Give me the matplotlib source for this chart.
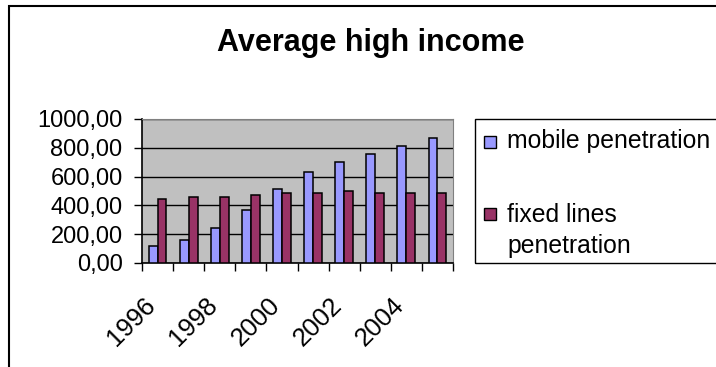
import numpy as np
import matplotlib.pyplot as plt
from matplotlib.patches import Rectangle
from matplotlib.transforms import ScaledTranslation

years = ['1996', '1997', '1998', '1999', '2000', '2001', '2002', '2003', '2004', '2005']
mobile = [120, 162, 245, 366, 514, 634, 704, 759, 810, 866]
fixed = [444, 458, 458, 472, 486, 486, 500, 486, 486, 486]

plt.rcParams['font.family'] = ['Liberation Sans', 'DejaVu Sans']

W, H = 716, 367
fig = plt.figure(figsize=(W / 100, H / 100), dpi=100)
fig.patch.set_facecolor('white')

# outer chart border (runs off right and bottom edges)
fig.add_artist(Rectangle((9 / W, -0.1), 1.2, (H - 6) / H + 0.1,
                         transform=fig.transFigure, fill=False,
                         edgecolor='black', lw=1.5))

ax = fig.add_axes([142 / W, 1 - 263 / H, (453 - 142) / W, (263 - 119) / H])
ax.set_facecolor('#C0C0C0')

x = np.arange(len(years))
bw = 0.286
ax.bar(x - bw / 2, mobile, bw, color='#9999FF', edgecolor='black', lw=1.1, zorder=3)
ax.bar(x + bw / 2, fixed, bw, color='#993366', edgecolor='black', lw=1.1, zorder=3)

ax.set_xlim(-0.5, len(years) - 0.5)
ax.set_ylim(0, 1000)

ax.set_yticks(np.arange(0, 1001, 200))
ax.set_yticklabels([f'{v:.2f}'.replace('.', ',') for v in np.arange(0, 1001, 200)])
ax.yaxis.grid(True, color='black', lw=1)
ax.set_axisbelow(True)

# category boundary ticks, labels on every other category centre
ax.set_xticks(np.arange(-0.5, len(years), 1.0))
ax.set_xticklabels([])
ax.set_xticks(x[::2], minor=True)
ax.set_xticklabels(years[::2], minor=True)
ax.tick_params(axis='x', which='major', length=6, width=1, direction='out')
ax.tick_params(axis='x', which='minor', length=0, pad=28, labelsize=18.5)
shift = ScaledTranslation(-6 / 100, 0, fig.dpi_scale_trans)
for lab in ax.get_xticklabels(minor=True):
    lab.set_rotation(45)
    lab.set_ha('right')
    lab.set_va('center')
    lab.set_rotation_mode('anchor')
    lab.set_transform(lab.get_transform() + shift)
ax.tick_params(axis='y', length=6, width=1, pad=8, labelsize=17)

for s in ['top', 'right']:
    ax.spines[s].set_color('#808080')
for s in ['left', 'bottom']:
    ax.spines[s].set_color('black')
    ax.spines[s].set_linewidth(1.2)

fig.text(371 / W, 1 - 43 / H, 'Average high income', ha='center', va='center',
         fontsize=22, fontweight='bold')

# legend box
fig.add_artist(Rectangle((475 / W, 1 - 263 / H), 0.5, (263 - 119) / H,
                         transform=fig.transFigure, fill=False,
                         edgecolor='black', lw=1))
fig.add_artist(Rectangle((484 / W, 1 - 148 / H), 12 / W, 12 / H,
                         transform=fig.transFigure, facecolor='#9999FF',
                         edgecolor='black', lw=1))
fig.text(507 / W, 1 - 141 / H, 'mobile penetration', ha='left', va='center', fontsize=17.8)
fig.add_artist(Rectangle((484 / W, 1 - 220 / H), 12 / W, 12 / H,
                         transform=fig.transFigure, facecolor='#993366',
                         edgecolor='black', lw=1))
fig.text(507 / W, 1 - 203 / H, 'fixed lines\npenetration', ha='left', va='top',
         fontsize=17.8, linespacing=1.35)

fig.savefig('out.png', dpi=100)
